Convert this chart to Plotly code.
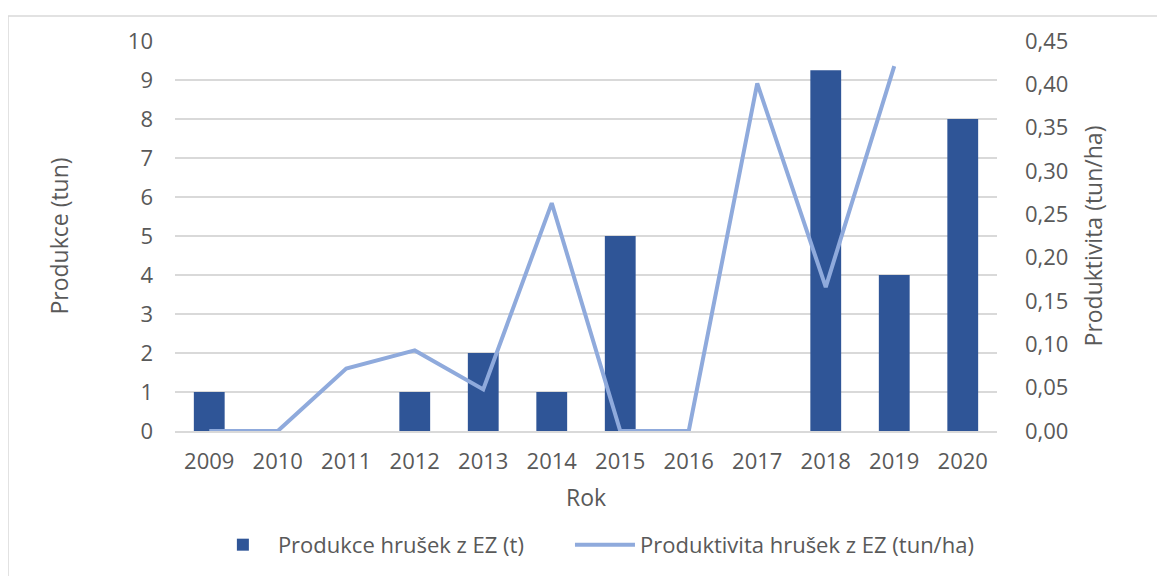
import plotly.graph_objects as go

years = ["2009", "2010", "2011", "2012", "2013", "2014", "2015", "2016", "2017", "2018", "2019", "2020"]
production_t = [1, 0, 0, 1, 2, 1, 5, 0, 0, 9.25, 4, 8]
productivity_t_ha = [0.0, 0.0, 0.072, 0.093, 0.048, 0.263, 0.0, 0.0, 0.401, 0.166, 0.421, None]

left_ticks = list(range(0, 11))
right_ticks = [i * 0.05 for i in range(10)]

FONT = "Open Sans"
GREY = "#595959"

L, T, R, B = 167, 33, 176, 153
PH = 576 - T - B
PW = 1165 - L - R

fig = go.Figure()
fig.add_trace(go.Bar(
    x=years, y=production_t, name="Produkce hrušek z EZ (t)",
    marker=dict(color="#2F5597", line=dict(width=0)), yaxis="y", legend="legend",
))
fig.add_trace(go.Scatter(
    x=years, y=productivity_t_ha, name="Produktivita hrušek z EZ (tun/ha)",
    mode="lines", line=dict(color="#8FAADC", width=4), yaxis="y2",
    connectgaps=False, legend="legend2",
))

legend_common = dict(orientation="h", xanchor="left", y=-0.292, yanchor="middle",
                     font=dict(size=22, color=GREY), itemwidth=60,
                     bgcolor="rgba(0,0,0,0)")

fig.update_layout(
    width=1165, height=576,
    paper_bgcolor="white", plot_bgcolor="white",
    margin=dict(l=L, r=R, t=T, b=B),
    separators=", ",
    font=dict(family=FONT, size=22, color=GREY),
    bargap=0.55,
    showlegend=True,
    legend=dict(x=0.040, **legend_common),
    legend2=dict(x=0.4805, **legend_common),
    xaxis=dict(
        type="category", title=dict(text="Rok", standoff=16, font=dict(size=23)),
        showgrid=False, showline=True, linecolor="#D9D9D9", linewidth=1.5,
        ticks="", ticklabelstandoff=10,
    ),
    yaxis=dict(
        title=dict(text="Produkce (tun)", standoff=52, font=dict(size=23)),
        range=[0, 10], tickvals=left_ticks, showgrid=True, gridcolor="#D9D9D9",
        gridwidth=1.5, zeroline=False, showline=False, ticks="", ticklabelstandoff=21,
    ),
    yaxis2=dict(
        title=dict(text="Produktivita (tun/ha)", standoff=18, font=dict(size=23)),
        overlaying="y", side="right", range=[0, 0.45], tickvals=right_ticks,
        tickformat=".2f", showgrid=False, zeroline=False, showline=False,
        ticks="", ticklabelstandoff=27,
    ),
    shapes=[dict(type="rect", xref="paper", yref="paper",
                 x0=-L / PW, x1=1.3, y0=-0.7, y1=(576 - 8 - B) / PH,
                 line=dict(color="#D9D9D9", width=1.5), fillcolor="rgba(0,0,0,0)",
                 layer="below")],
)

fig.write_html("out.html")
